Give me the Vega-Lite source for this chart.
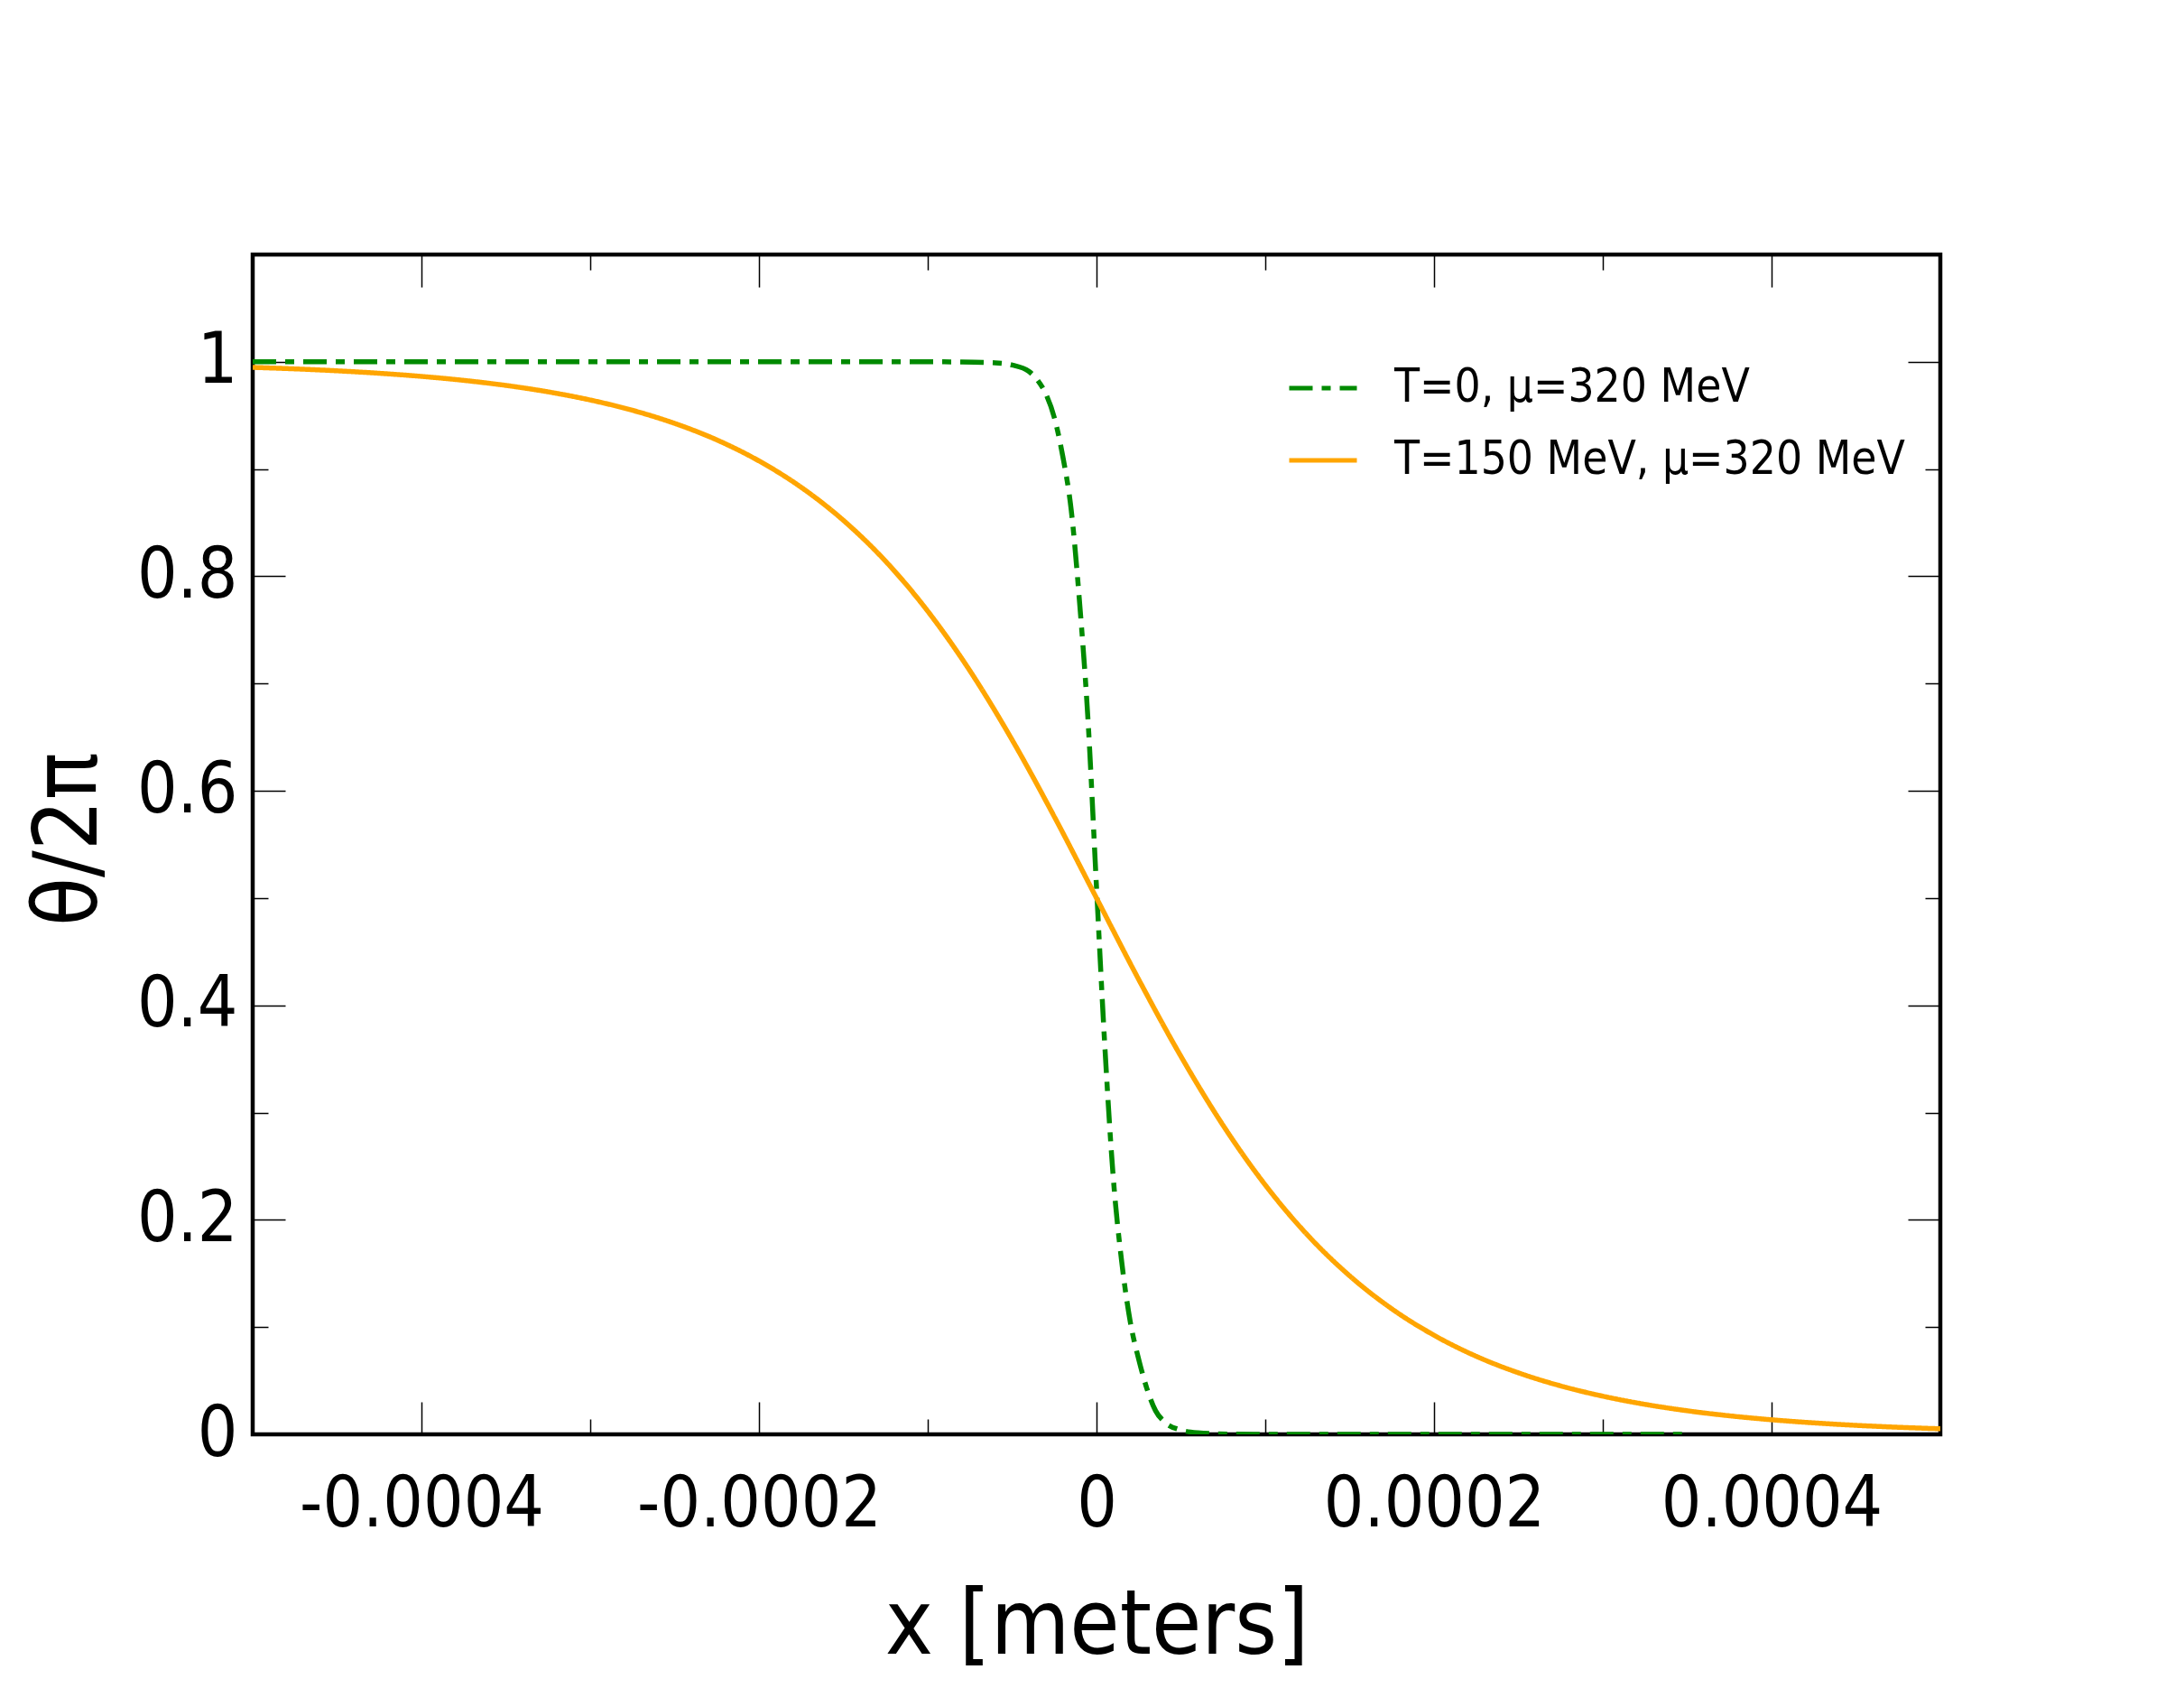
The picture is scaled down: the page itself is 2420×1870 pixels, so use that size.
{
  "$schema": "https://vega.github.io/schema/vega-lite/v6.json",
  "autosize": {"type": "none"},
  "padding": {"left": 280, "top": 282, "right": 270, "bottom": 281},
  "width": 1870,
  "height": 1307,
  "background": "white",
  "config": {
    "view": {"stroke": "black", "strokeWidth": 4.5},
    "axis": {
      "domain": false,
      "grid": false,
      "tickColor": "black",
      "tickWidth": 1.5,
      "labelFont": "DejaVu Sans Condensed, DejaVu Sans",
      "titleFont": "DejaVu Sans Condensed, DejaVu Sans",
      "labelColor": "black",
      "titleColor": "black",
      "titleFontWeight": "normal",
      "labelLimit": 1000
    },
    "legend": {
      "labelFont": "DejaVu Sans Condensed, DejaVu Sans"
    }
  },
  "data": {
    "values": [
      {"series": "T=0, μ=320 MeV", "x": -0.0005, "y": 1.0},
      {"series": "T=0, μ=320 MeV", "x": -0.0001, "y": 1.0},
      {"series": "T=0, μ=320 MeV", "x": -0.00008, "y": 0.9998},
      {"series": "T=0, μ=320 MeV", "x": -0.00006, "y": 0.999},
      {"series": "T=0, μ=320 MeV", "x": -0.00005, "y": 0.997},
      {"series": "T=0, μ=320 MeV", "x": -0.00004, "y": 0.991},
      {"series": "T=0, μ=320 MeV", "x": -0.000035, "y": 0.983},
      {"series": "T=0, μ=320 MeV", "x": -0.00003, "y": 0.97},
      {"series": "T=0, μ=320 MeV", "x": -0.000025, "y": 0.948},
      {"series": "T=0, μ=320 MeV", "x": -0.00002, "y": 0.912},
      {"series": "T=0, μ=320 MeV", "x": -0.000015, "y": 0.862},
      {"series": "T=0, μ=320 MeV", "x": -0.00001, "y": 0.775},
      {"series": "T=0, μ=320 MeV", "x": -0.000005, "y": 0.665},
      {"series": "T=0, μ=320 MeV", "x": 0.0, "y": 0.51},
      {"series": "T=0, μ=320 MeV", "x": 0.000005, "y": 0.36},
      {"series": "T=0, μ=320 MeV", "x": 0.00001, "y": 0.238},
      {"series": "T=0, μ=320 MeV", "x": 0.000015, "y": 0.16},
      {"series": "T=0, μ=320 MeV", "x": 0.00002, "y": 0.105},
      {"series": "T=0, μ=320 MeV", "x": 0.000025, "y": 0.07},
      {"series": "T=0, μ=320 MeV", "x": 0.00003, "y": 0.042},
      {"series": "T=0, μ=320 MeV", "x": 0.000035, "y": 0.022},
      {"series": "T=0, μ=320 MeV", "x": 0.00004, "y": 0.012},
      {"series": "T=0, μ=320 MeV", "x": 0.00005, "y": 0.004},
      {"series": "T=0, μ=320 MeV", "x": 0.00006, "y": 0.0015},
      {"series": "T=0, μ=320 MeV", "x": 0.00008, "y": 0.0002},
      {"series": "T=0, μ=320 MeV", "x": 0.0001, "y": 0.0},
      {"series": "T=0, μ=320 MeV", "x": 0.00035, "y": 0.0},
      {"series": "T=150 MeV, μ=320 MeV", "x": -0.0005, "y": 0.9948},
      {"series": "T=150 MeV, μ=320 MeV", "x": -0.000475, "y": 0.9934},
      {"series": "T=150 MeV, μ=320 MeV", "x": -0.00045, "y": 0.9916},
      {"series": "T=150 MeV, μ=320 MeV", "x": -0.000425, "y": 0.9893},
      {"series": "T=150 MeV, μ=320 MeV", "x": -0.0004, "y": 0.9864},
      {"series": "T=150 MeV, μ=320 MeV", "x": -0.000375, "y": 0.9827},
      {"series": "T=150 MeV, μ=320 MeV", "x": -0.00035, "y": 0.978},
      {"series": "T=150 MeV, μ=320 MeV", "x": -0.000325, "y": 0.972},
      {"series": "T=150 MeV, μ=320 MeV", "x": -0.0003, "y": 0.9644},
      {"series": "T=150 MeV, μ=320 MeV", "x": -0.000275, "y": 0.9548},
      {"series": "T=150 MeV, μ=320 MeV", "x": -0.00025, "y": 0.9426},
      {"series": "T=150 MeV, μ=320 MeV", "x": -0.000225, "y": 0.9272},
      {"series": "T=150 MeV, μ=320 MeV", "x": -0.0002, "y": 0.9076},
      {"series": "T=150 MeV, μ=320 MeV", "x": -0.000175, "y": 0.883},
      {"series": "T=150 MeV, μ=320 MeV", "x": -0.00015, "y": 0.8522},
      {"series": "T=150 MeV, μ=320 MeV", "x": -0.000125, "y": 0.8141},
      {"series": "T=150 MeV, μ=320 MeV", "x": -0.0001, "y": 0.7675},
      {"series": "T=150 MeV, μ=320 MeV", "x": -0.000075, "y": 0.7119},
      {"series": "T=150 MeV, μ=320 MeV", "x": -0.00005, "y": 0.6475},
      {"series": "T=150 MeV, μ=320 MeV", "x": -0.000025, "y": 0.5759},
      {"series": "T=150 MeV, μ=320 MeV", "x": 0.0, "y": 0.5},
      {"series": "T=150 MeV, μ=320 MeV", "x": 0.000025, "y": 0.4241},
      {"series": "T=150 MeV, μ=320 MeV", "x": 0.00005, "y": 0.3525},
      {"series": "T=150 MeV, μ=320 MeV", "x": 0.000075, "y": 0.2881},
      {"series": "T=150 MeV, μ=320 MeV", "x": 0.0001, "y": 0.2325},
      {"series": "T=150 MeV, μ=320 MeV", "x": 0.000125, "y": 0.1859},
      {"series": "T=150 MeV, μ=320 MeV", "x": 0.00015, "y": 0.1478},
      {"series": "T=150 MeV, μ=320 MeV", "x": 0.000175, "y": 0.117},
      {"series": "T=150 MeV, μ=320 MeV", "x": 0.0002, "y": 0.0924},
      {"series": "T=150 MeV, μ=320 MeV", "x": 0.000225, "y": 0.0728},
      {"series": "T=150 MeV, μ=320 MeV", "x": 0.00025, "y": 0.0574},
      {"series": "T=150 MeV, μ=320 MeV", "x": 0.000275, "y": 0.0452},
      {"series": "T=150 MeV, μ=320 MeV", "x": 0.0003, "y": 0.0356},
      {"series": "T=150 MeV, μ=320 MeV", "x": 0.000325, "y": 0.028},
      {"series": "T=150 MeV, μ=320 MeV", "x": 0.00035, "y": 0.022},
      {"series": "T=150 MeV, μ=320 MeV", "x": 0.000375, "y": 0.0173},
      {"series": "T=150 MeV, μ=320 MeV", "x": 0.0004, "y": 0.0136},
      {"series": "T=150 MeV, μ=320 MeV", "x": 0.000425, "y": 0.0107},
      {"series": "T=150 MeV, μ=320 MeV", "x": 0.00045, "y": 0.0084},
      {"series": "T=150 MeV, μ=320 MeV", "x": 0.000475, "y": 0.0066},
      {"series": "T=150 MeV, μ=320 MeV", "x": 0.0005, "y": 0.0052}
    ]
  },
  "resolve": {"axis": {"x": "independent", "y": "independent"}},
  "layer": [
    {
      "mark": {"type": "line", "strokeWidth": 5.5, "interpolate": "monotone", "clip": true},
      "encoding": {
        "x": {
          "field": "x", "type": "quantitative",
          "scale": {"domain": [-0.0005, 0.0005], "nice": false, "zero": false},
          "axis": {
            "orient": "bottom",
            "values": [-0.0004, -0.0002, 0, 0.0002, 0.0004],
            "format": "~g",
            "labelExpr": "replace(datum.label, '\u2212', '-')",
            "tickSize": -36,
            "labelFontSize": 78,
            "labelBaseline": "alphabetic",
            "labelPadding": 137,
            "labelFlush": false,
            "labelOverlap": false,
            "title": "x [meters]",
            "titleFontSize": 100,
            "titleX": 935,
            "titleY": 242,
            "titleAlign": "center",
            "titleBaseline": "alphabetic"
          }
        },
        "y": {
          "field": "y", "type": "quantitative",
          "scale": {"domain": [0, 1.1], "nice": false},
          "axis": {
            "orient": "left",
            "values": [0, 0.2, 0.4, 0.6, 0.8, 1],
            "format": "~g",
            "tickSize": -36,
            "labelFontSize": 78,
            "labelPadding": 53,
            "labelFlush": false,
            "labelOverlap": false,
            "title": "θ/2π",
            "titleFontSize": 98,
            "titleAngle": 270,
            "titleX": -174,
            "titleY": 647,
            "titleAlign": "center",
            "titleBaseline": "alphabetic"
          }
        },
        "color": {
          "field": "series", "type": "nominal",
          "scale": {"domain": ["T=0, μ=320 MeV", "T=150 MeV, μ=320 MeV"], "range": ["#008a00", "#ffa500"]},
          "legend": {
            "title": null,
            "orient": "none",
            "legendX": 1146,
            "legendY": 108,
            "padding": 0,
            "symbolType": "stroke",
            "symbolSize": 5625,
            "symbolStrokeWidth": 5,
            "labelFontSize": 51,
            "labelColor": "black",
            "labelOffset": 39,
            "rowPadding": 15,
            "labelLimit": 1000
          }
        },
        "strokeDash": {
          "field": "series", "type": "nominal",
          "scale": {"domain": ["T=0, μ=320 MeV", "T=150 MeV, μ=320 MeV"], "range": [[26, 10, 10, 10], [1, 0]]},
          "legend": {
            "title": null,
            "orient": "none",
            "legendX": 1146,
            "legendY": 108,
            "padding": 0,
            "symbolType": "stroke",
            "symbolSize": 5625,
            "symbolStrokeWidth": 5,
            "labelFontSize": 51,
            "labelColor": "black",
            "labelOffset": 39,
            "rowPadding": 15,
            "labelLimit": 1000
          }
        }
      }
    },
    {
      "mark": {"type": "point", "opacity": 0},
      "encoding": {
        "x": {"field": "x", "type": "quantitative",
          "axis": {"orient": "top", "values": [-0.0004, -0.0002, 0, 0.0002, 0.0004], "tickSize": -36, "labels": false, "title": null}},
        "y": {"field": "y", "type": "quantitative",
          "axis": {"orient": "right", "values": [0, 0.2, 0.4, 0.6, 0.8, 1], "tickSize": -36, "labels": false, "title": null}}
      }
    },
    {
      "mark": {"type": "point", "opacity": 0},
      "encoding": {
        "x": {"field": "x", "type": "quantitative",
          "axis": {"orient": "bottom", "values": [-0.0003, -0.0001, 0.0001, 0.0003], "tickSize": -17, "labels": false, "title": null}},
        "y": {"field": "y", "type": "quantitative",
          "axis": {"orient": "left", "values": [0.1, 0.3, 0.5, 0.7, 0.9], "tickSize": -17, "labels": false, "title": null}}
      }
    },
    {
      "mark": {"type": "point", "opacity": 0},
      "encoding": {
        "x": {"field": "x", "type": "quantitative",
          "axis": {"orient": "top", "values": [-0.0003, -0.0001, 0.0001, 0.0003], "tickSize": -17, "labels": false, "title": null}},
        "y": {"field": "y", "type": "quantitative",
          "axis": {"orient": "right", "values": [0.1, 0.3, 0.5, 0.7, 0.9], "tickSize": -17, "labels": false, "title": null}}
      }
    }
  ]
}
